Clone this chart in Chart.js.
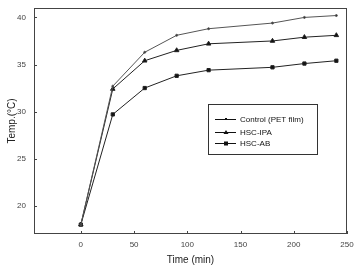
<!DOCTYPE html>
<html>
<head>
<meta charset="utf-8">
<script src="https://cdn.jsdelivr.net/npm/chart.js@4.4.1/dist/chart.umd.min.js"></script>
<style>
    html, body { margin: 0; padding: 0; background: #fff; }
    #wrap { width: 356px; height: 266px; }
</style>
</head>
<body>
<div id="wrap"><canvas id="myChart" width="356" height="266"></canvas></div>
<script>
// thời gian (phút)
const times = [0, 30, 60, 90, 120, 180, 210, 240];
// nhiệt độ
const controlTemp = [18, 32.7, 36.3, 38.1, 38.8, 39.4, 40.0, 40.2];
const ipaTemp = [18, 32.4, 35.4, 36.5, 37.2, 37.5, 37.9, 38.1];
const abTemp = [18, 29.7, 32.5, 33.8, 34.4, 34.7, 35.1, 35.4];

const xTicks = [0, 50, 100, 150, 200, 250];
const yTicks = [20, 25, 30, 35, 40];

const labelFont = { family: "'Liberation Sans', Arial, sans-serif", size: 8 };
const titleFont = { family: "'Liberation Sans', Arial, sans-serif", size: 10 };

function toPoints(ys) {
    return times.map((t, i) => ({ x: t, y: ys[i] }));
}

// vẽ vạch chia hướng vào trong + khung
const innerTicks = {
    id: "innerTicks",
    afterDraw(chart) {
        const { ctx, chartArea: a, scales } = chart;
        ctx.save();
        ctx.strokeStyle = "#444";
        ctx.lineWidth = 1;
        ctx.strokeRect(a.left + 0.5, a.top + 0.5, a.right - a.left - 1, a.bottom - a.top - 1);
        xTicks.forEach((v) => {
            const px = Math.round(scales.x.getPixelForValue(v)) + 0.5;
            ctx.beginPath();
            ctx.moveTo(px, a.bottom);
            ctx.lineTo(px, a.bottom - 3);
            ctx.stroke();
        });
        yTicks.forEach((v) => {
            const py = Math.round(scales.y.getPixelForValue(v)) + 0.5;
            ctx.beginPath();
            ctx.moveTo(a.left, py);
            ctx.lineTo(a.left + 3, py);
            ctx.stroke();
        });
        ctx.restore();
    },
};

// chú thích trong khung
const boxLegend = {
    id: "boxLegend",
    afterDraw(chart) {
        const ctx = chart.ctx;
        ctx.save();
        ctx.strokeStyle = "#333";
        ctx.lineWidth = 1;
        ctx.strokeRect(208.5, 104.5, 109, 50);
        const rows = [119, 132, 143];
        chart.data.datasets.forEach((ds, i) => {
            const y = rows[i] + 0.5;
            ctx.strokeStyle = "#111";
            ctx.beginPath();
            ctx.moveTo(215, y);
            ctx.lineTo(236, y);
            ctx.stroke();
            ctx.fillStyle = "#111";
            if (ds.pointStyle === "triangle") {
                ctx.beginPath();
                ctx.moveTo(226, y - 2.5);
                ctx.lineTo(228.5, y + 1.5);
                ctx.lineTo(223.5, y + 1.5);
                ctx.closePath();
                ctx.fill();
            } else if (ds.pointStyle === "rect") {
                ctx.fillRect(224, y - 2, 4, 4);
            } else {
                ctx.fillRect(225, y - 1.5, 2, 2);
            }
            ctx.font = "8px 'Liberation Sans', Arial, sans-serif";
            ctx.textBaseline = "middle";
            ctx.fillText(ds.label, 240, y);
        });
        ctx.restore();
    },
};

new Chart(document.getElementById("myChart").getContext("2d"), {
    type: "line",
    data: {
        datasets: [
            {
                label: "Control (PET film)",
                data: toPoints(controlTemp),
                borderColor: "#555",
                backgroundColor: "#333",
                borderWidth: 1,
                pointStyle: "circle",
                pointRadius: 1,
            },
            {
                label: "HSC-IPA",
                data: toPoints(ipaTemp),
                borderColor: "#222",
                backgroundColor: "#111",
                borderWidth: 1,
                pointStyle: "triangle",
                pointRadius: 2.6,
            },
            {
                label: "HSC-AB",
                data: toPoints(abTemp),
                borderColor: "#222",
                backgroundColor: "#111",
                borderWidth: 1,
                pointStyle: "rect",
                pointRadius: 2.3,
            },
        ],
    },
    options: {
        responsive: false,
        animation: false,
        layout: { padding: { top: 8, right: 9, left: 0, bottom: 0 } },
        plugins: {
            legend: { display: false },
            tooltip: { enabled: false },
        },
        scales: {
            x: {
                type: "linear",
                min: -44,
                max: 250,
                afterBuildTicks: (s) => { s.ticks = xTicks.map((v) => ({ value: v })); },
                afterFit: (s) => {
                    s.height = 32;
                    s.paddingLeft = 0;
                    s.paddingRight = 0;
                },
                grid: { display: false, drawTicks: false },
                border: { display: false },
                ticks: { color: "#444", font: labelFont, padding: 6, maxRotation: 0 },
                title: {
                    display: true,
                    text: "Time (min)",
                    color: "#222",
                    font: titleFont,
                    padding: { top: 2, bottom: 0 },
                },
            },
            y: {
                min: 17,
                max: 41,
                afterBuildTicks: (s) => { s.ticks = yTicks.map((v) => ({ value: v })); },
                afterFit: (s) => {
                    s.width = 34;
                    s.paddingTop = 0;
                    s.paddingBottom = 0;
                },
                grid: { display: false, drawTicks: false },
                border: { display: false },
                ticks: { color: "#444", font: labelFont, padding: 8 },
                title: {
                    display: true,
                    text: "Temp.(°C)",
                    color: "#222",
                    font: titleFont,
                    padding: { top: 6, bottom: 0 },
                },
            },
        },
    },
    plugins: [innerTicks, boxLegend],
});
</script>
</body>
</html>
